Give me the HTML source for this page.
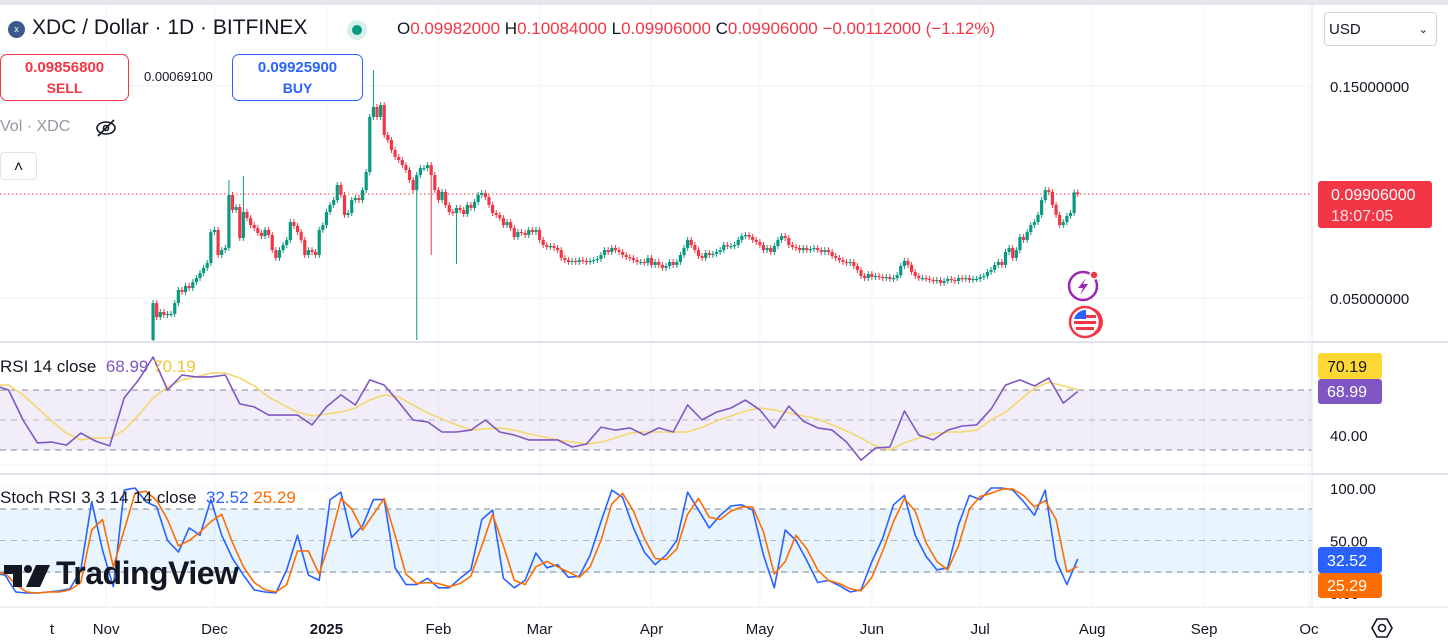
<!DOCTYPE html>
<html><head><meta charset="utf-8"><style>
html,body{margin:0;padding:0;background:#fff;}
body{width:1448px;height:643px;overflow:hidden;position:relative;font-family:"Liberation Sans",sans-serif;color:#131722;}
.abs{position:absolute;}
.box{position:absolute;border-radius:7px;text-align:center;font-weight:bold;font-size:15px;line-height:20px;background:#fff;}
</style></head><body>
<svg id="chart" width="1448" height="643" style="position:absolute;left:0;top:0" xmlns="http://www.w3.org/2000/svg">
<rect x="0" y="0" width="1448" height="5" fill="#e6e7ea"/>
<g id="grid"></g>
<g><rect x="0" y="390" width="1312" height="60" fill="#7e57c2" fill-opacity="0.1"/></g>
<g><rect x="0" y="509" width="1312" height="64" fill="#2196f3" fill-opacity="0.1"/></g>
<g id="dashes"></g>
<line x1="1312" y1="5" x2="1312" y2="607" stroke="#e0e3eb"/>
<line x1="0" y1="342" x2="1448" y2="342" stroke="#e0e3eb" stroke-width="2"/>
<line x1="0" y1="474" x2="1448" y2="474" stroke="#e0e3eb" stroke-width="2"/>
<line x1="0" y1="607" x2="1448" y2="607" stroke="#e0e3eb"/>
<defs><clipPath id="mainClip"><rect x="0" y="5" width="1312" height="336"/></clipPath>
<clipPath id="rsiClip"><rect x="0" y="343" width="1312" height="130"/></clipPath>
<clipPath id="stClip"><rect x="0" y="475" width="1312" height="131"/></clipPath></defs>
<line x1="0" y1="194" x2="1312" y2="194" stroke="#f23645" stroke-dasharray="1.5 2.5"/>
<g id="candles" clip-path="url(#mainClip)"></g>
<g id="rsiG" clip-path="url(#rsiClip)"></g>
<g id="stG" clip-path="url(#stClip)"></g>
<g id="axisLabels" font-family="Liberation Sans, sans-serif" font-size="15" fill="#131722"></g>
<g><rect x="1318" y="181" width="114" height="47" rx="3" fill="#f23645"/>
<text x="1331" y="200" fill="#fff" font-size="16" font-family="Liberation Sans, sans-serif">0.09906000</text>
<text x="1331" y="221" fill="#fde2e4" font-size="16" font-family="Liberation Sans, sans-serif">18:07:05</text></g>
<g><rect x="1318" y="353" width="64" height="26" rx="3" fill="#fdd835"/><text x="1327" y="372" font-size="16" fill="#131722" font-family="Liberation Sans, sans-serif">70.19</text></g>
<g><rect x="1318" y="379" width="64" height="25" rx="3" fill="#7e57c2"/><text x="1327" y="397" font-size="16" fill="#fff" font-family="Liberation Sans, sans-serif">68.99</text></g>
<g><rect x="1318" y="547" width="64" height="26" rx="3" fill="#2962ff"/><text x="1327" y="566" font-size="16" fill="#fff" font-family="Liberation Sans, sans-serif">32.52</text></g>
<g><rect x="1318" y="573" width="64" height="25" rx="3" fill="#ff6d00"/><text x="1327" y="591" font-size="16" fill="#fff" font-family="Liberation Sans, sans-serif">25.29</text></g>
<g transform="translate(1382,628)"><polygon points="-10,0 -5,-9 5,-9 10,0 5,9 -5,9" fill="none" stroke="#131722" stroke-width="1.6"/><circle r="3.5" fill="none" stroke="#131722" stroke-width="1.6"/></g>
<g transform="translate(1083,286)"><circle r="14" fill="#fff" stroke="#9c27b0" stroke-width="2.5"/><path d="M3,-8 L-5,2 L0,2 L-3,9 L5,-2 L0,-2 Z" fill="#9c27b0"/><circle cx="11" cy="-11" r="4" fill="#f23645" stroke="#fff" stroke-width="1.5"/></g>
<g transform="translate(1085,322)"><circle cx="3" r="15" fill="#f23645"/><circle r="15" fill="#fff" stroke="#f23645" stroke-width="2.5"/><rect x="-11" y="-1" width="22" height="3" fill="#f23645"/><rect x="-9" y="5" width="18" height="3" fill="#f23645"/><path d="M-11,-3 A12,12 0 0 1 1,-12 L1,-3 Z" fill="#2962ff"/><rect x="1" y="-7" width="10" height="3" fill="#f23645"/></g>
</svg>

<div class="abs" style="left:8px;top:21px;width:17px;height:17px;border-radius:50%;background:#3a5a8c;color:#fff;font-size:9px;text-align:center;line-height:17px;">x</div>
<div class="abs" style="left:32px;top:16px;font-size:21px;color:#131722;">XDC / Dollar · 1D · BITFINEX</div>
<div class="abs" style="left:347px;top:20px;width:20px;height:20px;border-radius:50%;background:#d7f0eb;"><div style="margin:5px;width:10px;height:10px;border-radius:50%;background:#089981"></div></div>
<div class="abs" style="left:397px;top:19px;font-size:17px;color:#f23645;white-space:nowrap;"><span style="color:#131722">O</span>0.09982000 <span style="color:#131722">H</span>0.10084000 <span style="color:#131722">L</span>0.09906000 <span style="color:#131722">C</span>0.09906000 −0.00112000 (−1.12%)</div>
<div class="abs" style="left:1324px;top:12px;width:113px;height:34px;border:1px solid #d1d4dc;border-radius:4px;font-size:15px;line-height:34px;box-sizing:border-box;padding-left:4px;">USD<span style="position:absolute;right:8px;font-size:11px;">&#8964;</span></div>
<div class="box" style="left:0;top:54px;width:129px;height:47px;border:1px solid #f23645;color:#f23645;padding-top:3px;box-sizing:border-box;">0.09856800<br><span style="font-size:14px;">SELL</span></div>
<div class="abs" style="left:144px;top:69px;font-size:13px;">0.00069100</div>
<div class="box" style="left:232px;top:54px;width:131px;height:47px;border:1px solid #2962ff;color:#2962ff;padding-top:3px;box-sizing:border-box;">0.09925900<br><span style="font-size:14px;">BUY</span></div>
<div class="abs" style="left:0;top:118px;font-size:16px;color:#9598a1;">Vol · XDC</div>
<div class="abs" style="left:95px;top:117px;width:22px;height:22px;"><svg width="22" height="22"><ellipse cx="11" cy="11" rx="9" ry="6" fill="none" stroke="#131722" stroke-width="1.6"/><circle cx="11" cy="11" r="2.5" fill="none" stroke="#131722" stroke-width="1.6"/><line x1="3" y1="19" x2="19" y2="3" stroke="#131722" stroke-width="1.6"/></svg></div>
<div class="abs" style="left:0;top:152px;width:37px;height:28px;border:1px solid #e0e3eb;border-radius:4px;box-sizing:border-box;text-align:center;line-height:30px;font-size:16px;background:#fff;">&#708;</div>
<div class="abs" style="left:0;top:357px;font-size:17px;color:#131722;white-space:nowrap;">RSI 14 close&nbsp; <span style="color:#7e57c2">68.99</span> <span style="color:#f0c430">70.19</span></div>
<div class="abs" style="left:0;top:488px;font-size:17px;color:#131722;white-space:nowrap;">Stoch RSI 3 3 14 14 close&nbsp; <span style="color:#2962ff">32.52</span> <span style="color:#ff6d00">25.29</span></div>
<div class="abs" style="left:4px;top:555px;white-space:nowrap;">
<svg width="52" height="30" style="vertical-align:middle"><path d="M0,6 H18 V28 H9 V15 H0 Z" fill="#131722"/><circle cx="24" cy="10" r="4" fill="#131722"/><path d="M32,6 H46 L36,28 H22 Z" fill="#131722"/></svg><span style="font-size:32px;font-weight:bold;color:#131722;vertical-align:middle;letter-spacing:-0.5px;">TradingView</span></div>

<script>
// ---- price data (daily closes, from Nov 15 2024) ----
const closes = [0.0476,0.0410,0.0434,0.0420,0.0425,0.0425,0.0476,0.0538,0.0528,0.0557,
0.0547,0.0575,0.0594,0.0618,0.0642,0.0665,0.0811,0.0821,0.0703,0.0726,
0.0736,0.0986,0.0915,0.0929,0.0783,0.0906,0.0877,0.0844,0.0830,0.0807,
0.0792,0.0821,0.0797,0.0726,0.0689,0.0726,0.0750,0.0774,0.0858,0.0840,
0.0811,0.0774,0.0703,0.0726,0.0717,0.0703,0.0821,0.0844,0.0906,0.0939,
0.0962,0.1033,0.0986,0.0892,0.0901,0.0962,0.0972,0.0962,0.1009,0.1094,
0.1354,0.1401,0.1354,0.1410,0.1269,0.1245,0.1198,0.1165,0.1151,0.1127,
0.1104,0.1057,0.1009,0.1080,0.1113,0.1113,0.1127,0.1080,0.1009,0.0962,
0.1000,0.0939,0.0906,0.0901,0.0925,0.0915,0.0896,0.0939,0.0925,0.0953,
0.0986,0.0995,0.0976,0.0939,0.0901,0.0892,0.0877,0.0844,0.0858,0.0830,
0.0788,0.0811,0.0807,0.0797,0.0821,0.0811,0.0821,0.0774,0.0750,0.0741,
0.0745,0.0736,0.0726,0.0689,0.0679,0.0670,0.0675,0.0670,0.0679,0.0675,
0.0670,0.0675,0.0679,0.0684,0.0703,0.0726,0.0717,0.0736,0.0726,0.0717,
0.0703,0.0693,0.0689,0.0679,0.0670,0.0670,0.0665,0.0689,0.0656,0.0670,
0.0656,0.0642,0.0651,0.0670,0.0656,0.0670,0.0703,0.0736,0.0774,0.0750,
0.0726,0.0698,0.0689,0.0712,0.0703,0.0708,0.0717,0.0726,0.0750,0.0745,
0.0745,0.0750,0.0774,0.0792,0.0797,0.0788,0.0774,0.0764,0.0750,0.0726,
0.0736,0.0717,0.0745,0.0774,0.0792,0.0783,0.0750,0.0741,0.0736,0.0726,
0.0736,0.0726,0.0731,0.0736,0.0726,0.0717,0.0726,0.0717,0.0698,0.0689,
0.0679,0.0670,0.0665,0.0670,0.0651,0.0632,0.0604,0.0594,0.0613,0.0599,
0.0604,0.0599,0.0594,0.0599,0.0590,0.0594,0.0608,0.0651,0.0675,0.0656,
0.0623,0.0604,0.0594,0.0594,0.0590,0.0585,0.0580,0.0585,0.0571,0.0580,
0.0590,0.0585,0.0580,0.0594,0.0590,0.0594,0.0585,0.0590,0.0590,0.0599,
0.0604,0.0623,0.0632,0.0656,0.0670,0.0656,0.0717,0.0736,0.0689,0.0726,
0.0788,0.0774,0.0811,0.0844,0.0858,0.0892,0.0962,0.1009,0.1000,0.0939,
0.0892,0.0844,0.0858,0.0887,0.0901,0.0998,0.09906];
const firstOpen = 0.0302;
const spikeIdx = [21, 25, 61, 73, 77, 84];
const spikeHigh = [0.1057, 0.1075, 0.1575, null, null, null];
const spikeLow = [null, null, null, 0.0302, 0.0703, 0.0660];
// ---- RSI (4-day samples, starting Oct 2 2024) ----
const rsiVals = [73.3,70,50,34.7,35.3,33.3,41.3,36,32.7,64.7,76.7,92,70,80,78.7,78.7,80,60.7,58.7,53.3,
53.3,53.3,46.7,58.7,66.7,60,76.7,73.3,62,50,48.7,42,42,43.3,50,42,40,36.7,36.7,36.7,
32,34,45.3,43.3,44.7,40,44.7,42,60,50,55.3,58,63.3,56.7,44.7,59.3,49.3,44.7,43.3,35.3,
23.3,31.3,32,56,40,36.7,43.3,46,46.7,57.3,73.3,76.7,72.7,78,61.3,68.99];
const rsiMA = [73.3,73.3,66.7,58,49.3,41.3,36.7,38,38,43.3,53.3,64.7,72,76.7,78.7,81.3,81.3,78,72.7,65.3,
60,55.3,52.7,54,55.3,58,63.3,66.7,65.3,60,54.7,50.7,46.7,43.3,44,44.7,43.3,40.7,38.7,36.7,
35.3,34,35.3,38,41.3,42,42,42,42,45.3,49.3,52.7,56,58,56.7,54.7,52.7,50.7,46.7,42.7,
38,32.7,30,34.7,38,40.7,42,42,43.3,50,55.3,63.3,71.3,75.3,72.7,70.19];
// ---- Stoch RSI (3-day samples, starting Oct 2 2024) ----
const stochK = [19,17,1,0,0,1,2,4,22,87,41,6,98,100,87,82,50,39,62,55,
89,55,33,17,3,1,0,22,55,17,12,89,96,53,64,89,89,24,8,8,
14,5,5,14,22,70,79,14,5,12,38,24,27,15,16,36,68,98,91,62,
39,27,36,50,96,79,62,74,83,84,79,36,5,60,50,31,10,12,7,1,
3,30,52,84,93,55,35,22,24,65,93,89,100,100,98,87,74,98,31,8,32.52];
const stochD = [18,19,8,1,0,1,1,3,10,60,70,25,60,95,97,88,70,45,50,58,
68,75,48,25,10,3,1,8,40,40,18,50,90,80,60,75,90,55,18,9,
10,9,6,9,16,45,75,45,12,8,25,30,25,20,15,25,50,85,95,78,
52,33,32,42,75,90,72,70,78,82,82,58,18,30,55,42,22,12,9,4,
2,15,40,68,90,78,48,30,22,45,80,92,95,99,99,93,82,88,70,20,25.29];
const priceTicks = [0.15, 0.05];
const rsiTicks = [40];
const stochTicks = [100, 50, 0];
const monthLabels = ["t","Nov","Dec","2025","Feb","Mar","Apr","May","Jun","Jul","Aug","Sep","Oc"];
const monthDays = [-14,1,31,62,93,121,152,182,213,243,274,305,334]; // days since Nov 1 2024
const FIRST_CANDLE_DAY = 14; // Nov 15

// ---- axis functions ----
const PX_PER_DAY = 3.612, X_NOV1 = 102.5;
function xDay(d){ return X_NOV1 + d*PX_PER_DAY; }
function xCandle(i){ return xDay(FIRST_CANDLE_DAY + i); }
function yPrice(p){ return 404 - p*2120; }
function yRsi(v){ return 495 - v*1.5; }
function yStoch(v){ return 593 - v*1.05; }
const IND_START_DAY = -30; // Oct 2 2024

const NS = "http://www.w3.org/2000/svg";
function mk(tag, attrs, parent){ const e=document.createElementNS(NS,tag); for(const k in attrs) e.setAttribute(k,attrs[k]); parent.appendChild(e); return e; }

// grid
const grid = document.getElementById('grid');
monthDays.forEach((d,i)=>{ if(i===0) return;
  const gl = mk('line',{x1:xDay(d),x2:xDay(d),y1:5,y2:607,stroke:'#f0f3fa'},grid);
  
  
});
priceTicks.forEach(p=>{
  const gl = mk('line',{x1:0,x2:1312,y1:yPrice(p),y2:yPrice(p),stroke:'#f0f3fa'},grid);
  
  
});
[100].forEach(v=>{ const gl=mk('line',{x1:0,x2:1312,y1:yStoch(v),y2:yStoch(v),stroke:'#f0f3fa'},grid);
  
   });
[20].forEach(v=>{ const gl=mk('line',{x1:0,x2:1312,y1:yRsi(v),y2:yRsi(v),stroke:'#f0f3fa'},grid);
  
   });

// dashed levels
const dashes = document.getElementById('dashes');
[70,50,30].forEach(v=>{ const l=mk('line',{x1:0,x2:1312,y1:yRsi(v),y2:yRsi(v),stroke:'#787b86','stroke-dasharray':'6 5','stroke-opacity':v===50?0.5:0.9},dashes);
  
   });
[80,50,20].forEach(v=>{ const l=mk('line',{x1:0,x2:1312,y1:yStoch(v),y2:yStoch(v),stroke:'#787b86','stroke-dasharray':'6 5','stroke-opacity':v===50?0.5:0.9},dashes);
  
   });

// candles
const cg = document.getElementById('candles');
closes.forEach((c,i)=>{
  const o = i===0 ? firstOpen : closes[i-1];
  const up = c >= o;
  const col = up ? '#089981' : '#f23645';
  const x = xCandle(i);
  let hi = Math.max(o,c), lo = Math.min(o,c);
  let yh = yPrice(hi)-3, yl = yPrice(lo)+3;
  const si = spikeIdx.indexOf(i);
  if(si>=0){ if(spikeHigh[si]!==null) yh = yPrice(spikeHigh[si]); if(spikeLow[si]!==null) yl = yPrice(spikeLow[si]); }
  const w = mk('line',{x1:x,x2:x,y1:yh,y2:yl,stroke:col,'stroke-width':1},cg);
  
  
  const yt = yPrice(hi), yb = yPrice(lo);
  const b = mk('rect',{x:x-1.6,y:yt,width:3.2,height:Math.max(1.2,yb-yt),fill:col},cg);
  
  
});

// lines
function poly(vals, step, yf, color, width, parent, name){
  const pts = vals.map((v,k)=> xDay(IND_START_DAY + k*step).toFixed(1)+','+yf(v).toFixed(1)).join(' ');
  const pl = mk('polyline',{points:pts,fill:'none',stroke:color,'stroke-width':width,'stroke-linejoin':'round'},parent);
  
  
}
const rg = document.getElementById('rsiG');
poly(rsiMA,4,yRsi,'#f5d76e',1.6,rg,'rsi-ma-line');
poly(rsiVals,4,yRsi,'#7e57c2',1.6,rg,'rsi-line');
const sg = document.getElementById('stG');
poly(stochK,3,yStoch,'#2962ff',1.6,sg,'stoch-k-line');
poly(stochD,3,yStoch,'#ff6d00',1.6,sg,'stoch-d-line');

// axis labels
const al = document.getElementById('axisLabels');
priceTicks.forEach(p=>{ const t=mk('text',{x:1330,y:yPrice(p)+6},al); t.textContent=p.toFixed(8);
  
   });
rsiTicks.forEach(v=>{ const t=mk('text',{x:1330,y:yRsi(v)+6},al); t.textContent=v.toFixed(2);
  
   });
stochTicks.forEach(v=>{ const t=mk('text',{x:1330,y:yStoch(v)+6},al); t.textContent=v.toFixed(2);
  
   });
monthLabels.forEach((m,i)=>{ const t=mk('text',{x:xDay(monthDays[i]),y:634,'text-anchor':'middle','font-weight':m==='2025'?'bold':'normal'},al); t.textContent=m;
  
   });
</script>
</body></html>
